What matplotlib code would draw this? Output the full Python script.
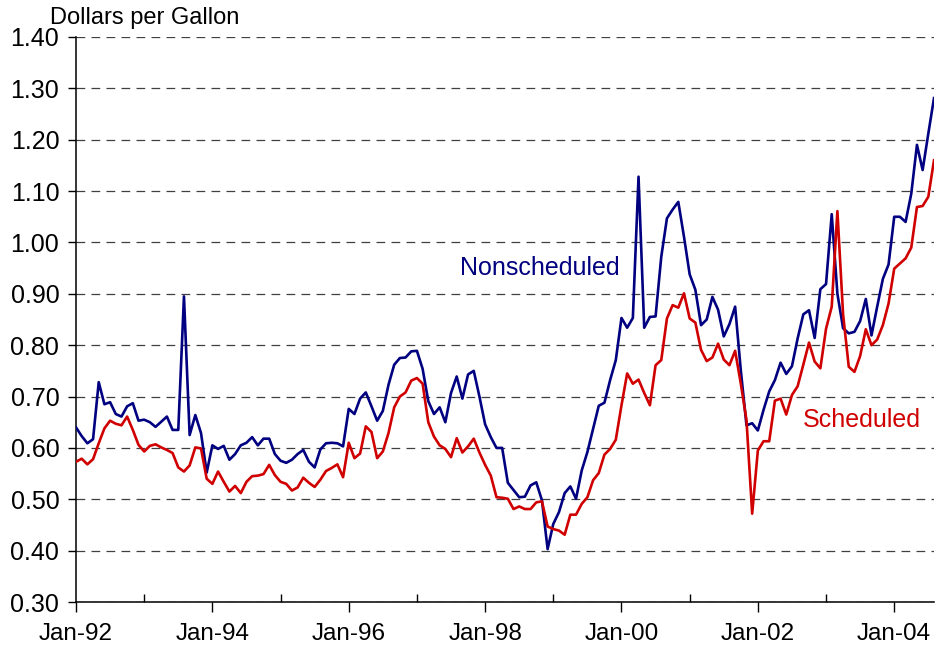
import numpy as np
import matplotlib
matplotlib.use("Agg")
import matplotlib.pyplot as plt
from matplotlib.ticker import MultipleLocator, FormatStrFormatter

plt.rcParams['font.family'] = ['Liberation Sans', 'DejaVu Sans']

# monthly prices, Jan-92 .. Aug-04
nonscheduled = [
    0.640, 0.623, 0.609, 0.617, 0.728, 0.685, 0.689, 0.666, 0.661, 0.681, 0.687, 0.653,
    0.655, 0.650, 0.641, 0.651, 0.661, 0.635, 0.635, 0.895, 0.625, 0.664, 0.629, 0.552,
    0.605, 0.598, 0.604, 0.577, 0.588, 0.605, 0.610, 0.621, 0.605, 0.618, 0.618, 0.588,
    0.575, 0.571, 0.577, 0.588, 0.596, 0.573, 0.562, 0.597, 0.609, 0.610, 0.609, 0.603,
    0.676, 0.666, 0.696, 0.708, 0.681, 0.653, 0.672, 0.723, 0.762, 0.775, 0.776, 0.788,
    0.789, 0.754, 0.691, 0.666, 0.679, 0.650, 0.707, 0.739, 0.696, 0.743, 0.750, 0.700,
    0.646, 0.621, 0.600, 0.600, 0.532, 0.518, 0.504, 0.505, 0.527, 0.533, 0.498, 0.403,
    0.452, 0.475, 0.512, 0.525, 0.501, 0.556, 0.592, 0.637, 0.682, 0.688, 0.732, 0.771,
    0.853, 0.834, 0.853, 1.128, 0.834, 0.855, 0.856, 0.972, 1.047, 1.064, 1.079, 1.011,
    0.938, 0.908, 0.839, 0.850, 0.894, 0.869, 0.817, 0.841, 0.875, 0.751, 0.644, 0.648,
    0.634, 0.674, 0.710, 0.732, 0.766, 0.744, 0.759, 0.813, 0.860, 0.868, 0.814, 0.909,
    0.919, 1.055, 0.900, 0.833, 0.823, 0.826, 0.847, 0.890, 0.819, 0.875, 0.929, 0.957,
    1.050, 1.050, 1.040, 1.095, 1.190, 1.141, 1.212, 1.281,
]
scheduled = [
    0.573, 0.579, 0.568, 0.578, 0.609, 0.638, 0.653, 0.647, 0.644, 0.661, 0.635, 0.606,
    0.593, 0.604, 0.607, 0.601, 0.596, 0.590, 0.562, 0.554, 0.566, 0.601, 0.599, 0.540,
    0.530, 0.554, 0.534, 0.515, 0.526, 0.512, 0.534, 0.545, 0.546, 0.549, 0.567, 0.547,
    0.534, 0.530, 0.517, 0.523, 0.542, 0.532, 0.524, 0.538, 0.555, 0.561, 0.568, 0.543,
    0.610, 0.580, 0.589, 0.642, 0.631, 0.580, 0.593, 0.629, 0.679, 0.700, 0.708, 0.731,
    0.736, 0.725, 0.650, 0.622, 0.605, 0.598, 0.582, 0.619, 0.591, 0.603, 0.618, 0.591,
    0.567, 0.546, 0.504, 0.503, 0.501, 0.481, 0.486, 0.481, 0.481, 0.494, 0.496, 0.447,
    0.442, 0.439, 0.431, 0.470, 0.470, 0.491, 0.504, 0.537, 0.551, 0.587, 0.598, 0.616,
    0.683, 0.745, 0.725, 0.733, 0.707, 0.683, 0.761, 0.771, 0.852, 0.878, 0.873, 0.901,
    0.852, 0.844, 0.791, 0.769, 0.776, 0.803, 0.772, 0.761, 0.789, 0.725, 0.654, 0.472,
    0.595, 0.613, 0.613, 0.692, 0.696, 0.665, 0.703, 0.720, 0.762, 0.805, 0.768, 0.755,
    0.832, 0.875, 1.061, 0.860, 0.758, 0.748, 0.779, 0.831, 0.800, 0.811, 0.839, 0.881,
    0.949, 0.959, 0.969, 0.990, 1.069, 1.071, 1.089, 1.160,
]
tick_labels = ["Jan-92", "Jan-94", "Jan-96", "Jan-98", "Jan-00", "Jan-02", "Jan-04"]

months = np.arange(len(nonscheduled))

fig = plt.figure(figsize=(9.36, 6.5), dpi=100)
ax = fig.add_axes([76 / 936, 48 / 650, 858 / 936, 565 / 650])

ax.plot(months, nonscheduled, color='#000080', lw=1.9, zorder=3)
ax.plot(months, scheduled, color='#D00000', lw=1.9, zorder=3)

ax.set_xlim(0, len(nonscheduled) - 1)
ax.set_ylim(0.30, 1.40)

# y axis
ax.yaxis.set_major_locator(MultipleLocator(0.1))
ax.yaxis.set_major_formatter(FormatStrFormatter('%.2f'))
ax.grid(axis='y', color='#404040', linestyle=(0, (7, 5)), lw=0.9)
ax.tick_params(axis='y', direction='out', length=6, width=1, labelsize=18, pad=6)

# x axis: labelled ticks every 2 years, short inner ticks in between
ax.set_xticks(np.arange(0, len(nonscheduled), 24))
ax.set_xticklabels(tick_labels)
ax.set_xticks(np.arange(12, len(nonscheduled), 24), minor=True)
ax.tick_params(axis='x', which='major', direction='out', length=7, width=1,
               labelsize=17.5, pad=8)
ax.tick_params(axis='x', which='minor', direction='in', length=6, width=1)

for s in ['top', 'right']:
    ax.spines[s].set_visible(False)
for s in ['left', 'bottom']:
    ax.spines[s].set_linewidth(1.1)
ax.set_axisbelow(True)

ax.text(67.5, 0.951, "Nonscheduled", color='#000080', fontsize=18, va='center')
ax.text(128, 0.655, "Scheduled", color='#D00000', fontsize=18, va='center')

fig.text(50 / 936, 1 - 18 / 650, "Dollars per Gallon", fontsize=17, va='center')

fig.savefig("out.png", dpi=100)
